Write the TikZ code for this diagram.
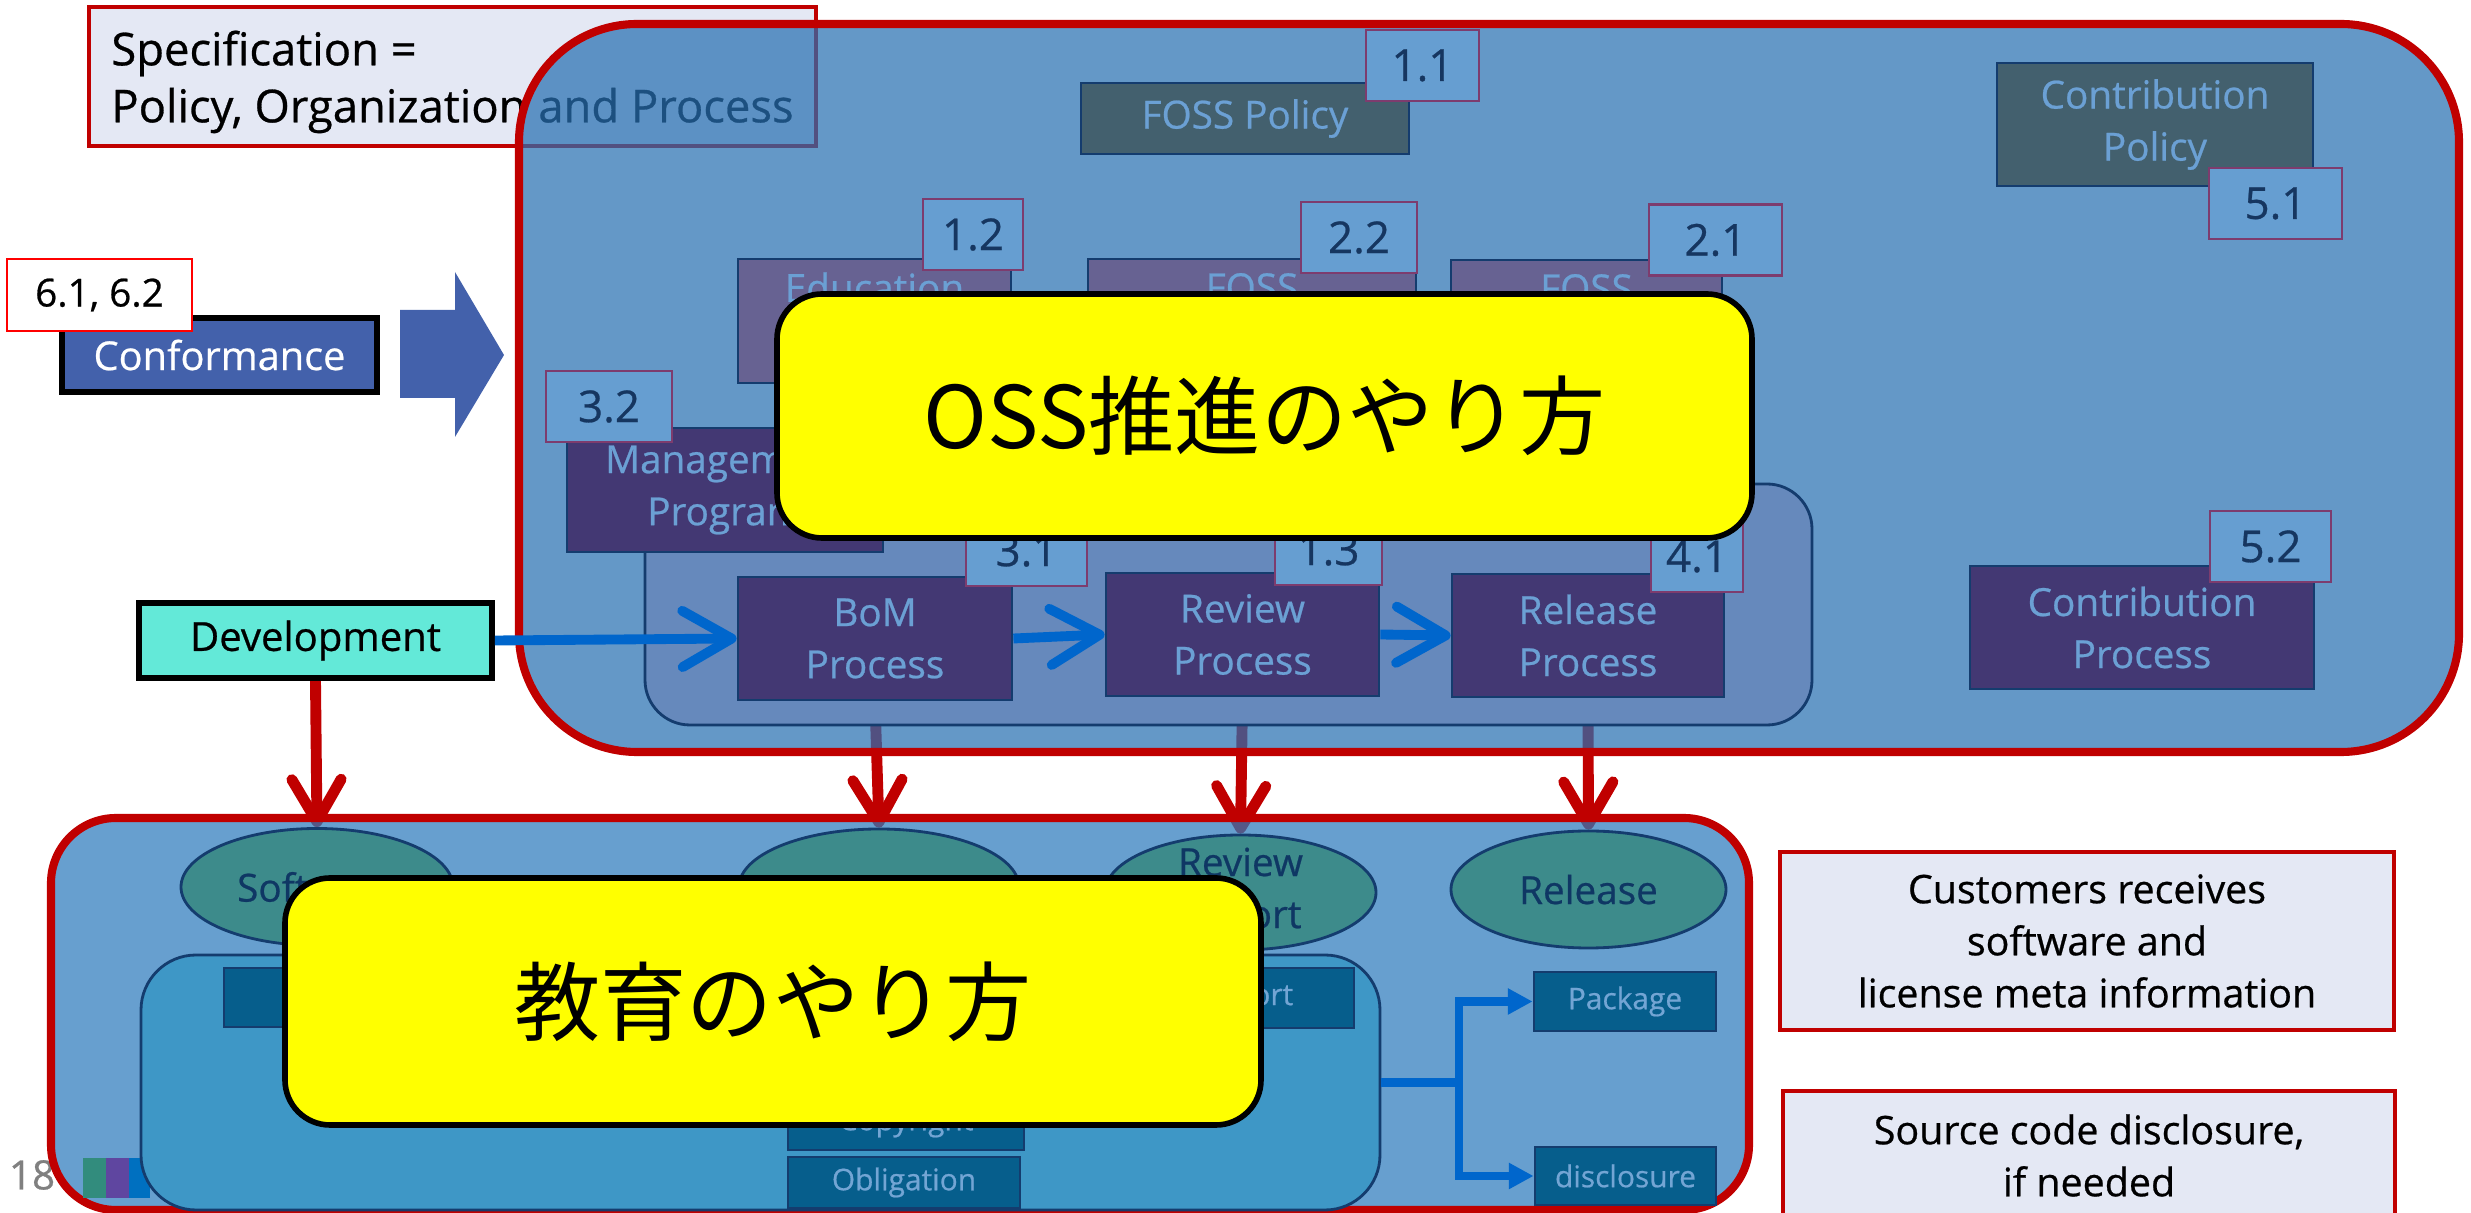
\documentclass[tikz,border=0pt]{standalone}
\usepackage{fontspec}
\setmainfont{Open Sans}[FakeBold=0.6]
\newfontfamily\jpfont{Noto Sans CJK JP}
\usetikzlibrary{arrows.meta,shapes,positioning,calc}
\definecolor{specRed}{RGB}{192,0,0}
\definecolor{specLav}{RGB}{228,232,244}
\definecolor{specFill}{RGB}{40,112,178}
\definecolor{eduFill}{RGB}{44,122,188}
\definecolor{numFill}{RGB}{102,158,209}
\definecolor{numLine}{RGB}{125,60,110}
\definecolor{numText}{RGB}{22,54,96}
\definecolor{procFill}{RGB}{67,56,115}
\definecolor{procLine}{RGB}{20,60,110}
\definecolor{procText}{RGB}{107,160,212}
\definecolor{prgFill}{RGB}{103,98,146}
\definecolor{polFill}{RGB}{67,96,110}
\definecolor{groupFill}{RGB}{102,137,188}
\definecolor{ellFill}{RGB}{61,139,139}
\definecolor{ellText}{RGB}{15,55,100}
\definecolor{chkFill}{RGB}{62,151,198}
\definecolor{itemFill}{RGB}{6,94,140}
\definecolor{itemText}{RGB}{115,165,212}
\definecolor{flowBlue}{RGB}{0,102,204}
\definecolor{confBlue}{RGB}{67,97,171}
\definecolor{devCyan}{RGB}{99,233,216}
\definecolor{hintYellow}{RGB}{255,255,0}
\definecolor{stripeTeal}{RGB}{50,140,125}
\definecolor{stripePurple}{RGB}{95,70,160}
\definecolor{stripeBlue}{RGB}{0,112,192}
\pgfdeclarelayer{wires}
\pgfdeclarelayer{panels}
\pgfsetlayers{wires,panels,main}

\begin{document}
\begin{tikzpicture}[x=0.01cm,y=-0.01cm,
    every node/.style={inner sep=0pt, align=center},
    dims/.style 2 args={minimum width=#1*0.01cm, minimum height=#2*0.01cm},
    panel/.style={draw=specRed, line width=2.3pt, fill opacity=0.72, text opacity=1},
    num/.style={fill=numFill, draw=numLine, line width=0.6pt, text=numText, font=\fontsize{12.5pt}{15pt}\selectfont, dims={#1}{71}},
    proc/.style={fill=procFill, draw=procLine, line width=0.8pt, text=procText, font=\fontsize{11pt}{14.8pt}\selectfont},
    prog/.style={proc, fill=prgFill},
    policy/.style={proc, fill=polFill},
    group/.style={fill=groupFill, draw=procLine, line width=0.8pt, rounded corners=0.45cm},
    ell/.style={ellipse, fill=ellFill, draw=procLine, line width=0.8pt, text=ellText, font=\fontsize{11pt}{14.8pt}\selectfont},
    elltext/.style={text=ellText, font=\fontsize{11pt}{14.8pt}\selectfont},
    item/.style={fill=itemFill, draw=procLine, line width=0.8pt, text=itemText, font=\fontsize{8.5pt}{10pt}\selectfont},
    note/.style={fill=specLav, draw=specRed, line width=1.4pt, font=\fontsize{11.2pt}{14.8pt}\selectfont},
    hint/.style={fill=hintYellow, draw=black, line width=1.6pt, rounded corners=0.45cm, font=\jpfont\fontsize{24.5pt}{28pt}\selectfont},
    redArrow/.style={draw=specRed, line width=3.1pt, -{Straight Barb[round,length=12pt,width=14pt]}},
    flowArrow/.style={draw=flowBlue, line width=2.8pt, -{Straight Barb[round,length=14pt,width=16pt]}},
    branchArrow/.style={draw=flowBlue, line width=2.3pt, -{Triangle[length=7pt,width=7pt]}},
    ]
    \useasboundingbox (0,0) rectangle (2471,1213);

    % the two big translucent panels
    \begin{pgfonlayer}{panels}
    \node[panel, fill=specFill, rounded corners=1.18cm, dims={1940}{728}] (spec) at (1489,388) {};
    \node[panel, fill=eduFill, rounded corners=0.65cm, dims={1698}{392}] (edu) at (900,1014) {};
    \end{pgfonlayer}

    % policies
    \node[policy, dims={328}{71}] (fossPolicy) at (1245,118.5) {FOSS Policy};
    \node[num=113] (n11) at (1422.5,65.5) {1.1};
    \node[policy, dims={316}{123}] (contribPolicy) at (2155,124.5) {Contribution\\Policy};
    \node[num=133] (n51) at (2275.5,203.5) {5.1};

    % programs
    \node[prog, dims={273}{124}] (education) at (874.5,321) {Education\\ \strut};
    \node[num=100] (n12) at (973,234.5) {1.2};
    \node[prog, dims={328}{124}] (fossA) at (1252,321) {FOSS\\ \strut};
    \node[num=116] (n22) at (1359,237.5) {2.2};
    \node[prog, dims={271}{124}] (fossB) at (1586.5,322) {FOSS\\ \strut};
    \node[num=133] (n21) at (1715.5,240) {2.1};

    % processes
    \node[group, dims={1167}{241}] (procGroup) at (1228.5,604.5) {};
    \node[proc, dims={316}{124}] (mgmt) at (725,490) {Management\\Program};
    \node[num=126] (n32) at (609,406.5) {3.2};
    \node[proc, dims={274}{123}] (bomProc) at (875,638.5) {BoM\\Process};
    \node[num=121] (n31) at (1026.5,550.5) {3.1};
    \node[proc, dims={273}{123}] (reviewProc) at (1242.5,634.5) {Review\\Process};
    \node[num=107] (n13) at (1328.5,549.5) {1.3};
    \node[proc, dims={272}{123}] (releaseProc) at (1588,635.5) {Release\\Process};
    \node[num=92] (n41) at (1697,556.5) {4.1};
    \node[proc, dims={344}{123}] (contribProc) at (2142,627.5) {Contribution\\Process};
    \node[num=121] (n52) at (2270.5,546.5) {5.2};

    % left side
    \node[fill=confBlue, draw=black, line width=1.6pt, text=white, font=\fontsize{11.3pt}{14pt}\selectfont, dims={315}{74}] (conformance) at (219.5,355) {Conformance};
    \node[fill=white, draw=red, line width=0.6pt, font=\fontsize{11pt}{14pt}\selectfont, dims={185}{72}] (n6162) at (99.5,295) {6.1, 6.2};
    \fill[confBlue] (400,310) -- (455,310) -- (455,272) -- (504,355) -- (455,437) -- (455,398) -- (400,398) -- cycle;
    \node[fill=devCyan, draw=black, line width=1.6pt, font=\fontsize{11.4pt}{14pt}\selectfont, dims={353}{75}] (development) at (315.5,640.5) {Development};

    \draw[flowArrow] (development.east) -- (bomProc.west);
    \draw[flowArrow] (bomProc.east) -- (reviewProc.west);
    \draw[flowArrow] (reviewProc.east) -- (releaseProc.west);

    \node[hint, dims={975}{244}] (hintSpec) at (1264.5,416) {OSS推進のやり方};

    % bottom panel
    \fill[stripeTeal] (83,1158) rectangle (106,1198);
    \fill[stripePurple] (106,1158) rectangle (129,1198);
    \fill[stripeBlue] (129,1158) rectangle (150,1198);
    \node[ell, dims={272}{117}] (softEll) at (317,887) {Software};
    \node[ell, dims={280}{116}] (bomEll) at (879,887) {};
    \node[ell, dims={271}{115}] (reviewEll) at (1240.5,892.5) {};
    \node[elltext] (reviewTxt) at (reviewEll) {Review\\Report};
    \node[ell, dims={275}{117}] (releaseEll) at (1588.5,889.5) {Release};
    \node[group, fill=chkFill, rounded corners=0.55cm, dims={1239}{255}] (checkGroup) at (760.5,1082.5) {};
    \node[item, dims={236}{59}] (licBox) at (342,997.5) {};
    \node[item, dims={216}{60}] (reportBox) at (1246,998) {Report};
    \node[item, dims={236}{55}] (copyBox) at (906,1122.5) {Copyright};
    \node[item, dims={232}{51}] (obligBox) at (904,1182.5) {Obligation};
    \node[item, dims={182}{59}] (packageBox) at (1625,1001.5) {Package};
    \node[item, dims={181}{58}] (disclBox) at (1625.5,1176) {disclosure};

    \coordinate (fork) at ($(checkGroup.east)+(78,0)$);
    \draw[flowBlue, line width=2.3pt] (checkGroup.east) -- (fork);
    \draw[branchArrow] (fork) |- (packageBox.west);
    \draw[branchArrow] (fork) |- (disclBox.west);

    \node[hint, dims={976}{247}] (hintEdu) at (773,1001.5) {教育のやり方};

    % notes on the right
    \node[note, dims={614}{178}] (customers) at (2087,941) {Customers receives\\software and\\license meta information};
    \node[note, dims={612}{129}] (source) at (2089,1155.5) {Source code disclosure,\\if needed};

    % under the panels
    \begin{pgfonlayer}{wires}
    \node[note, line width=1.4pt, font=\fontsize{12.9pt}{16.2pt}\selectfont, align=left, text depth=0pt, dims={727}{139}] (title) at (452.5,76.5) {Specification =\\Policy, Organization and Process};
    \node[text=gray, font=\fontsize{11.5pt}{14pt}\selectfont] (pageNo) at (32,1175) {18};
    \draw[redArrow] (development.south) -- (softEll.north);
    \draw[redArrow] (bomProc.south) -- (bomEll.north);
    \draw[redArrow] (reviewProc.south) -- (reviewEll.north);
    \draw[redArrow] (releaseProc.south) -- (releaseEll.north);
    \end{pgfonlayer}
\end{tikzpicture}
\end{document}
